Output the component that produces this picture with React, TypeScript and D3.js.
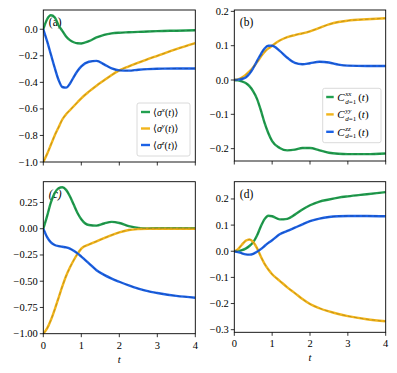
import React, { useEffect, useRef } from 'react';
import * as d3 from 'd3';

// shared time grid
const tGrid = [0, 0.1, 0.2, 0.3, 0.4, 0.5, 0.6, 0.7, 0.8, 0.9, 1.0, 1.2, 1.4, 1.6, 1.8, 2.0, 2.25, 2.5, 2.75, 3, 3.5, 4];

// panel (a): single-site expectation values
const aSx = [0, 0.075, 0.105, 0.09, 0.03, -0.012, -0.055, -0.082, -0.098, -0.106, -0.107, -0.09, -0.062, -0.042, -0.031, -0.026, -0.023, -0.02, -0.017, -0.014, -0.011, -0.008];
const aSy = [-1, -0.94, -0.87, -0.8, -0.74, -0.68, -0.64, -0.61, -0.58, -0.55, -0.52, -0.47, -0.425, -0.385, -0.345, -0.31, -0.28, -0.252, -0.225, -0.2, -0.15, -0.105];
const aSz = [0, -0.09, -0.19, -0.29, -0.38, -0.435, -0.44, -0.41, -0.36, -0.315, -0.28, -0.245, -0.238, -0.265, -0.295, -0.31, -0.312, -0.305, -0.3, -0.297, -0.296, -0.296];

// panel (b): nearest-neighbour correlators
const bCxx = [0, -0.001, -0.004, -0.009, -0.018, -0.033, -0.055, -0.088, -0.125, -0.155, -0.178, -0.198, -0.205, -0.203, -0.198, -0.198, -0.205, -0.212, -0.215, -0.216, -0.216, -0.214];
const bCyy = [0, 0.002, 0.007, 0.015, 0.025, 0.037, 0.052, 0.068, 0.082, 0.092, 0.1, 0.115, 0.125, 0.131, 0.136, 0.142, 0.152, 0.162, 0.169, 0.173, 0.177, 0.18];
const bCzz = [0, 0.001, 0.003, 0.007, 0.018, 0.035, 0.055, 0.075, 0.092, 0.1, 0.1, 0.085, 0.065, 0.05, 0.046, 0.049, 0.053, 0.051, 0.045, 0.042, 0.041, 0.041];

// panel (c)
const cSx = [0, 0.12, 0.25, 0.34, 0.385, 0.395, 0.37, 0.31, 0.23, 0.15, 0.09, 0.035, 0.03, 0.05, 0.065, 0.055, 0.025, 0.008, 0.003, 0.005, 0.006, 0.004];
const cSy = [-1, -0.95, -0.87, -0.77, -0.66, -0.55, -0.45, -0.37, -0.3, -0.24, -0.19, -0.15, -0.12, -0.09, -0.06, -0.035, -0.012, -0.003, 0, 0, 0, 0];
const cSz = [0, -0.08, -0.13, -0.155, -0.165, -0.172, -0.178, -0.19, -0.21, -0.235, -0.265, -0.33, -0.395, -0.44, -0.475, -0.505, -0.54, -0.57, -0.595, -0.612, -0.64, -0.657];

// panel (d)
const dCxx = [0, 0.001, 0.004, 0.01, 0.02, 0.035, 0.06, 0.095, 0.123, 0.136, 0.134, 0.122, 0.124, 0.14, 0.16, 0.176, 0.19, 0.198, 0.205, 0.21, 0.218, 0.226];
const dCyy = [0, 0.008, 0.025, 0.04, 0.045, 0.035, 0.012, -0.02, -0.048, -0.07, -0.088, -0.113, -0.138, -0.16, -0.183, -0.202, -0.218, -0.23, -0.24, -0.248, -0.26, -0.268];
const dCzz = [0, -0.003, -0.008, -0.012, -0.013, -0.01, -0.002, 0.008, 0.02, 0.032, 0.042, 0.065, 0.078, 0.09, 0.103, 0.115, 0.125, 0.131, 0.134, 0.135, 0.135, 0.134];

const xTicks = [0, 1, 2, 3, 4];
const aTicks = [0.0, -0.2, -0.4, -0.6, -0.8, -1.0];
const bTicks = [0.2, 0.1, 0.0, -0.1, -0.2];
const cTicks = [0.25, 0.0, -0.25, -0.5, -0.75, -1.0];
const dTicks = [0.2, 0.1, 0.0, -0.1, -0.2, -0.3];

const colors = ['#22a050', '#f2b51c', '#1c62e6'];
const dashColors = ['#1a5a32', '#8a6a18', '#1a3a7a'];

const panels = [
  { label: '(a)', box: [43.3, 195.3, 10, 162], yDomain: [-1.0, 0.145], ticks: aTicks, fmt: '.1f', series: [aSx, aSy, aSz], legend: 'sigma', showX: false },
  { label: '(b)', box: [234.3, 385.7, 10, 161], yDomain: [-0.236, 0.204], ticks: bTicks, fmt: '.1f', series: [bCxx, bCyy, bCzz], legend: 'corr', showX: false },
  { label: '(c)', box: [43.3, 195.3, 181.7, 333.7], yDomain: [-1.0, 0.448], ticks: cTicks, fmt: '.2f', series: [cSx, cSy, cSz], legend: null, showX: true },
  { label: '(d)', box: [234.3, 385.7, 181.7, 332.3], yDomain: [-0.31, 0.266], ticks: dTicks, fmt: '.1f', series: [dCxx, dCyy, dCzz], legend: null, showX: true },
];

const FONT = '"Liberation Serif", "DejaVu Serif", serif';

const App = () => {
  const svgRef = useRef<SVGSVGElement | null>(null);

  useEffect(() => {
    const svg = d3.select(svgRef.current);
    svg.selectAll('*').remove();
    svg.append('rect').attr('width', 397).attr('height', 373).attr('fill', '#fff');

    panels.forEach(p => {
      const [x0, x1, y0, y1] = p.box;
      const x = d3.scaleLinear().domain([0, 4]).range([x0, x1]);
      const y = d3.scaleLinear().domain(p.yDomain).range([y1, y0]);
      const g = svg.append('g');

      const clipId = 'clip' + p.label.replace(/[()]/g, '');
      svg.append('clipPath').attr('id', clipId)
        .append('rect').attr('x', x0).attr('y', y0).attr('width', x1 - x0).attr('height', y1 - y0);

      const line = d3.line<number>()
        .x((_, i) => x(tGrid[i]))
        .y(d => y(d))
        .curve(d3.curveMonotoneX);

      // panel label (under the curves, like the reference)
      g.append('text').attr('x', x0 + 5.5).attr('y', y0 + 16)
        .style('font-family', FONT).style('font-size', '11.5px')
        .style('font-style', p.label === '(c)' ? 'italic' : 'normal')
        .text(p.label);

      const lines = g.append('g').attr('clip-path', `url(#${clipId})`);
      p.series.forEach((s, i) => {
        lines.append('path')
          .attr('d', line(s))
          .attr('fill', 'none')
          .attr('stroke', colors[i])
          .attr('stroke-width', 2.4);
      });
      p.series.forEach((s, i) => {
        lines.append('path')
          .attr('d', line(s))
          .attr('fill', 'none')
          .attr('stroke', dashColors[i])
          .attr('stroke-opacity', 0.45)
          .attr('stroke-width', 1)
          .attr('stroke-dasharray', '3.5,2.5');
      });

      // frame
      g.append('rect')
        .attr('x', x0).attr('y', y0).attr('width', x1 - x0).attr('height', y1 - y0)
        .attr('fill', 'none').attr('stroke', '#000').attr('stroke-width', 0.9);

      // y axis
      const fmt = d3.format(p.fmt);
      p.ticks.forEach(t => {
        g.append('line').attr('x1', x0 - 3.5).attr('x2', x0).attr('y1', y(t)).attr('y2', y(t))
          .attr('stroke', '#000').attr('stroke-width', 0.8);
        g.append('text').attr('x', x0 - 5.5).attr('y', y(t) + 3.5)
          .attr('text-anchor', 'end').style('font-family', FONT).style('font-size', '10.5px')
          .text(fmt(t).replace('-', '\u2212'));
      });

      // x axis
      xTicks.forEach(t => {
        g.append('line').attr('x1', x(t)).attr('x2', x(t)).attr('y1', y1).attr('y2', y1 + 3.5)
          .attr('stroke', '#000').attr('stroke-width', 0.8);
        if (p.showX) {
          g.append('text').attr('x', x(t)).attr('y', y1 + 15)
            .attr('text-anchor', 'middle').style('font-family', FONT).style('font-size', '10.5px')
            .text(String(t));
        }
      });
      if (p.showX) {
        g.append('text').attr('x', (x0 + x1) / 2).attr('y', y1 + 29)
          .attr('text-anchor', 'middle').style('font-family', FONT).style('font-size', '10.5px')
          .style('font-style', 'italic').text('t');
      }

      // legend
      if (p.legend === 'sigma') {
        const lx = 137, ly = 103;
        g.append('rect').attr('x', lx).attr('y', ly).attr('width', 53).attr('height', 53)
          .attr('rx', 2).attr('fill', '#fff').attr('fill-opacity', 0.85)
          .attr('stroke', '#d0d0d0').attr('stroke-width', 0.8);
        ['x', 'y', 'z'].forEach((c, i) => {
          const ry = 112 + i * 16.5;
          g.append('line').attr('x1', lx + 4).attr('x2', lx + 13).attr('y1', ry).attr('y2', ry)
            .attr('stroke', colors[i]).attr('stroke-width', 2.4);
          const tx = g.append('text').attr('x', lx + 16).attr('y', ry + 3.5)
            .style('font-family', FONT).style('font-size', '10px');
          tx.append('tspan').text('\u27E8');
          tx.append('tspan').style('font-style', 'italic').text('\u03C3');
          tx.append('tspan').attr('dy', -4).style('font-size', '7px').style('font-style', 'italic').text(c);
          tx.append('tspan').attr('dy', 4).text('(');
          tx.append('tspan').style('font-style', 'italic').text('t');
          tx.append('tspan').text(')\u27E9');
        });
      } else if (p.legend === 'corr') {
        const lx = 322.7, ly = 88.3;
        g.append('rect').attr('x', lx).attr('y', ly).attr('width', 58.3).attr('height', 54.4)
          .attr('rx', 2).attr('fill', '#fff').attr('fill-opacity', 0.85)
          .attr('stroke', '#d0d0d0').attr('stroke-width', 0.8);
        ['xx', 'yy', 'zz'].forEach((c, i) => {
          const ry = 97 + i * 17.4;
          g.append('line').attr('x1', lx + 3.5).attr('x2', lx + 11).attr('y1', ry).attr('y2', ry)
            .attr('stroke', colors[i]).attr('stroke-width', 2.4);
          const bx = lx + 14.5;
          g.append('text').attr('x', bx).attr('y', ry + 3.8)
            .style('font-family', FONT).style('font-size', '11px').style('font-style', 'italic').text('C');
          g.append('text').attr('x', bx + 8).attr('y', ry - 1.2)
            .style('font-family', FONT).style('font-size', '7px').style('font-style', 'italic').text(c);
          const sub = g.append('text').attr('x', bx + 8).attr('y', ry + 6.5)
            .style('font-family', FONT).style('font-size', '7px');
          sub.append('tspan').style('font-style', 'italic').text('d');
          sub.append('tspan').text('=1');
          const rest = g.append('text').attr('x', bx + 21).attr('y', ry + 3.8)
            .style('font-family', FONT).style('font-size', '11px');
          rest.append('tspan').text('(');
          rest.append('tspan').style('font-style', 'italic').text('t');
          rest.append('tspan').text(')');
        });
      }
    });
  }, []);

  return (
    <svg
      ref={svgRef}
      width={397}
      height={373}
      style={{ position: 'absolute', left: 0, top: 0, display: 'block' }}
    />
  );
};

export default App;
